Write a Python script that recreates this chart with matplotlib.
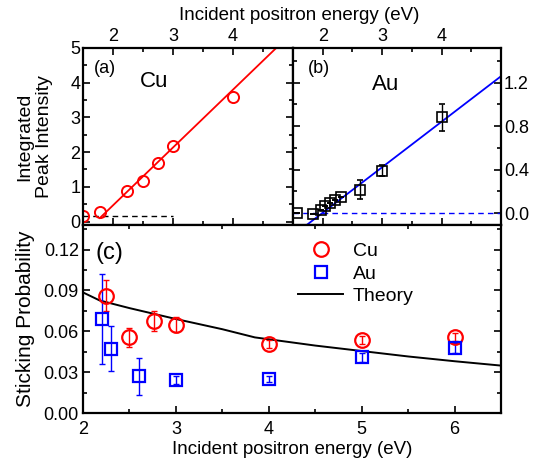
import matplotlib
matplotlib.use("Agg")
import matplotlib.pyplot as plt
from matplotlib.ticker import MultipleLocator, FormatStrFormatter

plt.rcParams['font.family'] = ['Liberation Sans', 'DejaVu Sans']

# Panel (a): Cu integrated peak intensity
cu_a_x = [1.5, 1.79, 2.24, 2.5, 2.75, 3.0, 4.0]
cu_a_y = [0.15, 0.27, 0.89, 1.17, 1.70, 2.18, 3.58]
cu_fit_x = [1.78, 4.72]
cu_fit_y = [0.1, 5.0]
cu_base_x = [1.5, 3.0]
cu_base_y = [0.15, 0.15]

# Panel (b): Au integrated peak intensity
au_b_x = [1.56, 1.83, 1.97, 2.04, 2.12, 2.21, 2.31, 2.63, 3.0, 4.0]
au_b_y = [0.0, -0.005, 0.025, 0.062, 0.096, 0.124, 0.148, 0.216, 0.39, 0.88]
au_b_err = [0.0, 0.0, 0.0, 0.0, 0.0, 0.0, 0.0, 0.085, 0.05, 0.125]
au_fit_x = [1.73, 5.0]
au_fit_y = [-0.11, 1.26]
au_base_x = [1.5, 5.0]
au_base_y = [0.0, 0.0]

# Panel (c): sticking probability
cu_c_x = [2.25, 2.49, 2.76, 3.0, 4.0, 5.0, 6.0]
cu_c_y = [0.0862, 0.0555, 0.0673, 0.0649, 0.0506, 0.0538, 0.0558]
cu_c_err = [0.0115, 0.0067, 0.0074, 0.0053, 0.003, 0.003, 0.003]
au_c_x = [2.2, 2.3, 2.6, 3.0, 4.0, 5.0, 6.0]
au_c_y = [0.069, 0.0472, 0.0268, 0.0243, 0.0248, 0.0408, 0.0477]
au_c_err = [0.0333, 0.0167, 0.0135, 0.003, 0.002, 0.003, 0.004]
theory_x = [2.0, 2.18, 2.5, 3.0, 3.5, 3.85, 4.5, 5.0, 5.5, 6.0, 6.5]
theory_y = [0.0885, 0.0826, 0.077, 0.069, 0.0615, 0.0555, 0.0495, 0.0455, 0.0415, 0.038, 0.0348]

W, H = 534, 462
fig = plt.figure(figsize=(W / 100, H / 100), dpi=100)

def frac(l, t, r, b):
    return [l / W, (H - b) / H, (r - l) / W, (b - t) / H]

ax_a = fig.add_axes(frac(83, 48, 293, 225))
ax_b = fig.add_axes(frac(293, 48, 501, 225))
ax_c = fig.add_axes(frac(83, 225, 501, 413))

TS = 13
for ax in (ax_a, ax_b, ax_c):
    for s in ax.spines.values():
        s.set_linewidth(1.6)
    ax.tick_params(which='both', direction='in', top=True, bottom=True, left=True, right=True,
                   labelsize=TS, width=1.2)
    ax.tick_params(which='major', length=5)
    ax.tick_params(which='minor', length=3)

# (a)
ax_a.plot(cu_fit_x, cu_fit_y, color='red', lw=1.3)
ax_a.plot(cu_base_x, cu_base_y, color='black', lw=1.0, ls=(0, (4, 3)))
ax_a.plot(cu_a_x, cu_a_y, 'o', mfc='none', mec='red', mew=1.4, ms=8)
ax_a.set_xlim(1.5, 5.0)
ax_a.set_ylim(-0.1, 5.0)
ax_a.set_xticks([2, 3, 4])
ax_a.xaxis.set_minor_locator(MultipleLocator(0.5))
ax_a.yaxis.set_major_locator(MultipleLocator(1))
ax_a.yaxis.set_minor_locator(MultipleLocator(0.5))
ax_a.tick_params(labelbottom=False, labeltop=True, labelleft=True, pad=2)
ax_a.text(0.05, 0.86, '(a)', transform=ax_a.transAxes, fontsize=13)
ax_a.text(0.27, 0.78, 'Cu', transform=ax_a.transAxes, fontsize=16)
ax_a.set_ylabel('Integrated\nPeak Intensity', fontsize=14, labelpad=12, linespacing=1.25)

# (b)
ax_b.plot(au_fit_x, au_fit_y, color='blue', lw=1.3)
ax_b.plot(au_base_x, au_base_y, color='blue', lw=1.0, ls=(0, (4, 3)))
ax_b.errorbar(au_b_x, au_b_y, yerr=au_b_err, fmt='s', mfc='none', mec='black', mew=1.2,
              ms=7, ecolor='black', elinewidth=1.0, capsize=2.5)
ax_b.set_xlim(1.5, 5.0)
ax_b.set_ylim(-0.11, 1.52)
ax_b.set_xticks([2, 3, 4])
ax_b.xaxis.set_minor_locator(MultipleLocator(0.5))
ax_b.yaxis.set_major_locator(MultipleLocator(0.4))
ax_b.yaxis.set_minor_locator(MultipleLocator(0.2))
ax_b.yaxis.set_major_formatter(FormatStrFormatter('%.1f'))
ax_b.tick_params(labelbottom=False, labeltop=True, labelleft=False, labelright=True, pad=2)
ax_b.text(0.07, 0.86, '(b)', transform=ax_b.transAxes, fontsize=13)
ax_b.text(0.38, 0.76, 'Au', transform=ax_b.transAxes, fontsize=16)

fig.text(299 / W, 1 - 16 / H, 'Incident positron energy (eV)', ha='center', va='center', fontsize=13.5)

# (c)
ax_c.plot(theory_x, theory_y, color='black', lw=1.4, label='Theory')
ax_c.errorbar(au_c_x, au_c_y, yerr=au_c_err, fmt='none', ecolor='blue', elinewidth=1.0, capsize=2.5)
ax_c.errorbar(cu_c_x, cu_c_y, yerr=cu_c_err, fmt='none', ecolor='red', elinewidth=1.0, capsize=2.5)
ax_c.plot(cu_c_x, cu_c_y, 'o', mfc='none', mec='red', mew=1.6, ms=10.5, ls='none', label='Cu')
ax_c.plot(au_c_x, au_c_y, 's', mfc='none', mec='blue', mew=1.6, ms=9, ls='none', label='Au')
ax_c.set_xlim(2, 6.5)
ax_c.set_ylim(0, 0.138)
ax_c.xaxis.set_major_locator(MultipleLocator(1))
ax_c.xaxis.set_minor_locator(MultipleLocator(0.5))
ax_c.yaxis.set_major_locator(MultipleLocator(0.03))
ax_c.yaxis.set_minor_locator(MultipleLocator(0.015))
ax_c.yaxis.set_major_formatter(FormatStrFormatter('%.2f'))
ax_c.tick_params(top=False, labelsize=TS)
ax_c.tick_params(axis='x', pad=6)
ax_c.tick_params(axis='y', pad=3)
ax_c.text(0.03, 0.82, '(c)', transform=ax_c.transAxes, fontsize=17)
ax_c.set_xlabel('Incident positron energy (eV)', fontsize=13.5, labelpad=2)
ax_c.set_ylabel('Sticking Probability', fontsize=15, labelpad=6)
h, l = ax_c.get_legend_handles_labels()
order = [l.index('Cu'), l.index('Au'), l.index('Theory')]
ax_c.legend([h[i] for i in order], [l[i] for i in order], loc='upper left',
            bbox_to_anchor=(0.473, 1.0), frameon=False, fontsize=14, handlelength=2.3,
            labelspacing=0.25, handletextpad=0.5)

fig.savefig('out.png', dpi=100)
